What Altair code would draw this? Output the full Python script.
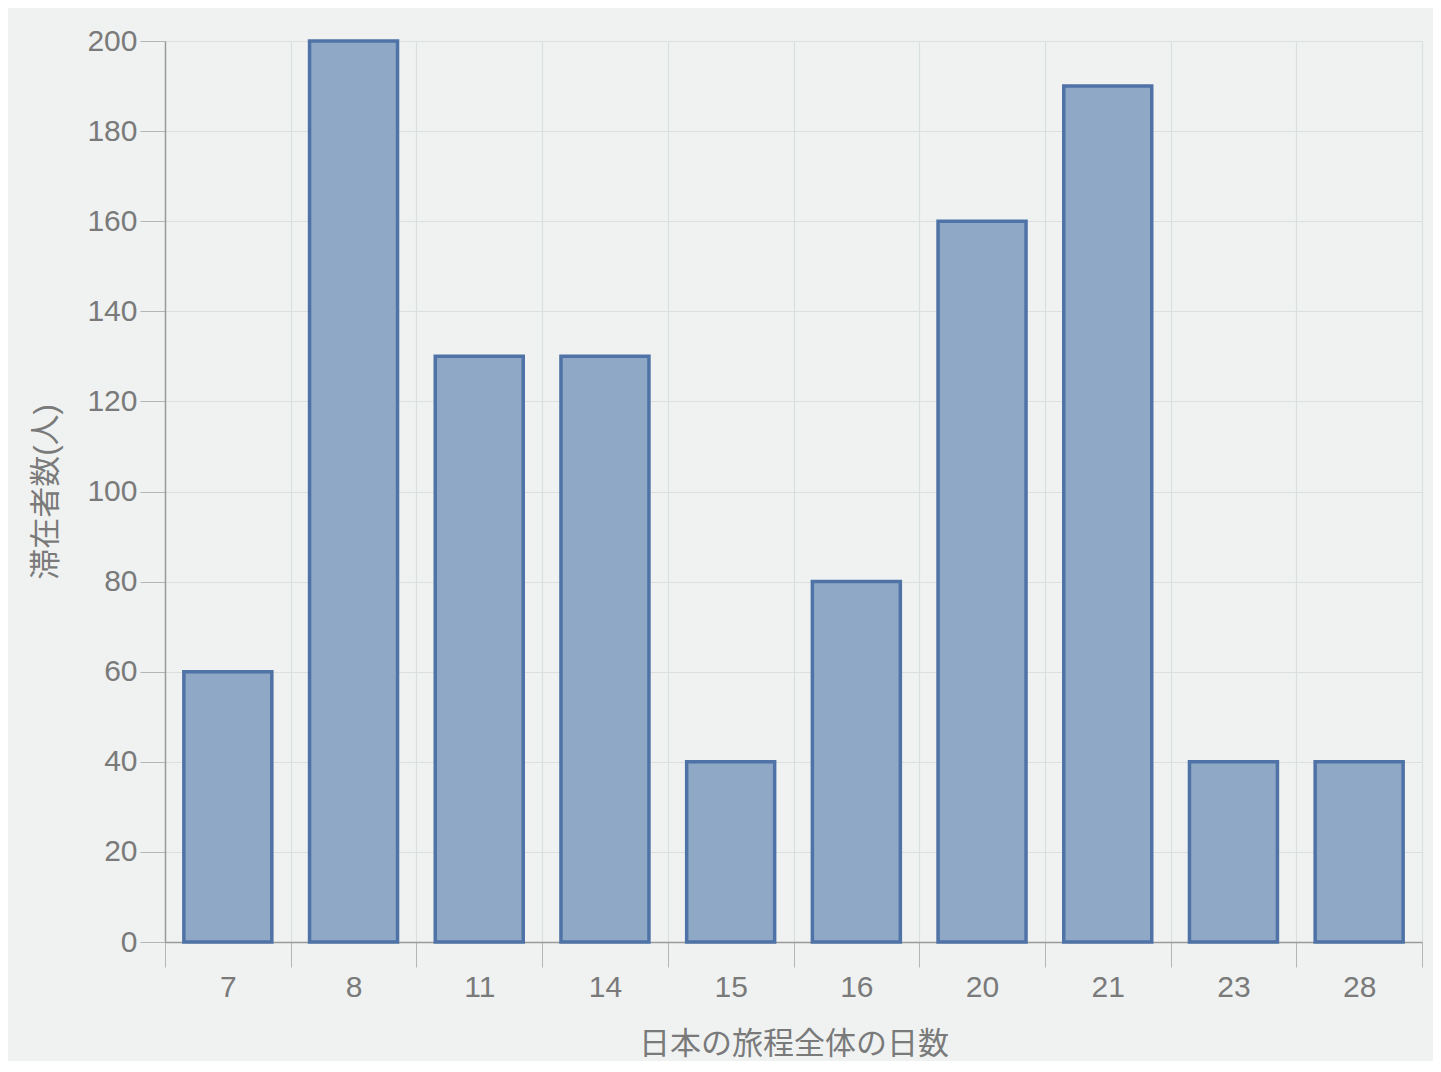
import altair as alt
import pandas as pd

days = ["7", "8", "11", "14", "15", "16", "20", "21", "23", "28"]
counts = [60, 200, 130, 130, 40, 80, 160, 190, 40, 40]

df = pd.DataFrame({"days": days, "count": counts})

FONT = "Liberation Sans, Arial, Noto Sans CJK JP, sans-serif"

chart = alt.Chart(df).mark_bar(
    width=alt.RelativeBandSize(0.7),
    fill="#8fa8c6",
    stroke="#4f73a6",
    strokeWidth=3.5,
).encode(
    x=alt.X(
        "days:N",
        sort=days,
        scale=alt.Scale(paddingInner=0, paddingOuter=0),
        axis=alt.Axis(
            title="日本の旅程全体の日数",
            labelAngle=0,
            tickBand="extent",
            tickSize=25,
            labelPadding=5,
            titlePadding=27,
            grid=True,
        ),
    ),
    y=alt.Y(
        "count:Q",
        scale=alt.Scale(domain=[0, 200]),
        axis=alt.Axis(
            title="滞在者数(人)",
            values=list(range(0, 201, 20)),
            tickSize=25,
            labelPadding=3,
            titlePadding=24,
            grid=True,
        ),
    ),
).properties(
    width=1257,
    height=901,
    autosize=alt.AutoSizeParams(type="none"),
    padding={"left": 157, "top": 33, "right": 11, "bottom": 119},
    background="#eff2f1",
).configure_view(
    stroke=None,
    fill="#eff2f1",
).configure_axis(
    labelFont=FONT,
    titleFont=FONT,
    labelFontSize=30,
    titleFontSize=31,
    labelColor="#7a7a7a",
    titleColor="#7a7a7a",
    titleFontWeight="normal",
    domainColor="#9a9a9a",
    tickColor="#b5b5b5",
    gridColor="#dadfdf",
    domainWidth=1.5,
    tickWidth=1,
    gridWidth=1.2,
)

chart.save("out.html", embed_options={"renderer": "svg", "actions": False})
